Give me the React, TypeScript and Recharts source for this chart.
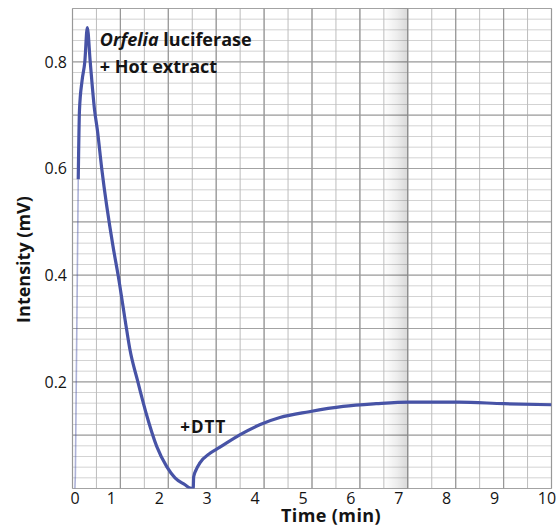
import React from "react";
import {
  LineChart,
  Line,
  XAxis,
  YAxis,
  CartesianGrid,
  ReferenceArea,
  ReferenceDot,
} from "recharts";

// Fast initial rise of the recorder pen (faint on the paper)
const riseTime = [0.05, 0.06, 0.12];
const riseIntensity = [0, 0.025, 0.58];

// Main luminescence trace: flash, decay, then recovery after DTT addition
const traceTime = [
  0.12, 0.146, 0.2, 0.257, 0.309, 0.37, 0.46, 0.518, 0.61, 0.846, 0.956, 1.13,
  1.2, 1.353, 1.534, 1.758, 1.967, 2.14, 2.35, 2.45, 2.52, 2.53, 2.58, 2.66,
  2.87, 3.07, 3.5, 3.92, 4.33, 4.94, 5.65, 6.34, 7.03, 8.07, 9.01, 10,
];
const traceIntensity = [
  0.58, 0.71, 0.765, 0.8, 0.864, 0.8, 0.71, 0.673, 0.6, 0.454, 0.398, 0.298,
  0.26, 0.204, 0.142, 0.079, 0.041, 0.02, 0.007, 0.001, 0.0, 0.022, 0.035,
  0.048, 0.066, 0.077, 0.101, 0.12, 0.133, 0.144, 0.154, 0.159, 0.162, 0.162,
  0.159, 0.157,
];

const xTicks = [0, 1, 2, 3, 4, 5, 6, 7, 8, 9, 10];
const yTicks = [0.2, 0.4, 0.6, 0.8];

const xDomain: [number, number] = [0, 10];
const yDomain: [number, number] = [0, 0.9];

// Chart-paper ruling: fine lines every 0.5 min / 0.02 mV, heavier every 1 min / 0.1 mV
const paperMinorX: number[] = [];
for (let i = 0; i <= 20; i++) paperMinorX.push(i * 0.5);
const paperMajorX: number[] = [];
for (let i = 0; i <= 10; i++) paperMajorX.push(i);
const paperMinorY: number[] = [];
for (let i = 0; i <= 45; i++) paperMinorY.push(Math.round(i * 0.02 * 1000) / 1000);
const paperMajorY: number[] = [];
for (let i = 0; i <= 9; i++) paperMajorY.push(Math.round(i * 0.1 * 1000) / 1000);

const riseData = riseTime.map((t, i) => ({ t, v: riseIntensity[i] }));
const traceData = traceTime.map((t, i) => ({ t, v: traceIntensity[i] }));

const FONT = "'Open Sans', Lato, sans-serif";
const TRACE = "#4753a6";
const INK = "#141414";

// Minute labels were lettered slightly left of their rulings on the printed figure
const timeTick = (props: any) => {
  const { x, y, payload } = props;
  const v = payload.value;
  const nudge = v === 0 ? 2.5 : v === 10 ? -4.5 : -9;
  return (
    <text
      x={x + nudge}
      y={y}
      dy="0.74em"
      textAnchor="middle"
      fontFamily={FONT}
      fontSize={16}
      fill={INK}
    >
      {v}
    </text>
  );
};

const enzymeLabel = (props: any) => {
  const { viewBox } = props;
  const x = viewBox.x;
  const y = viewBox.y;
  return (
    <text x={x} y={y} fontFamily={FONT} fontWeight={700} fontSize={18} fill={INK}>
      <tspan fontStyle="italic">Orfelia</tspan>
      <tspan> luciferase</tspan>
      <tspan x={x} dy={27}>+ Hot extract</tspan>
    </text>
  );
};

const dttLabel = (props: any) => {
  const { viewBox } = props;
  return (
    <text
      x={viewBox.x}
      y={viewBox.y}
      fontFamily={FONT}
      fontWeight={700}
      fontSize={17}
      letterSpacing={1}
      fill={INK}
    >
      +DTT
    </text>
  );
};

const timeTitle = (props: any) => {
  const { viewBox } = props;
  return (
    <text
      x={viewBox.x + viewBox.width / 2 + 19}
      y={viewBox.y + 33}
      textAnchor="middle"
      fontFamily={FONT}
      fontWeight={700}
      fontSize={18}
      letterSpacing={0.4}
      fill={INK}
    >
      Time (min)
    </text>
  );
};

const intensityTitle = (props: any) => {
  const { viewBox } = props;
  const cx = 30;
  const cy = viewBox.y + viewBox.height / 2 + 11;
  return (
    <text
      x={cx}
      y={cy}
      transform={`rotate(-90, ${cx}, ${cy})`}
      textAnchor="middle"
      fontFamily={FONT}
      fontWeight={700}
      fontSize={18}
      fill={INK}
    >
      Intensity (mV)
    </text>
  );
};

export default function App() {
  return (
    <div
      style={{
        position: "absolute",
        left: 0,
        top: 0,
        width: 556,
        height: 527,
        background: "#ffffff",
      }}
    >
      <LineChart
        width={556}
        height={527}
        margin={{ top: 8.5, right: 4.5, left: 0, bottom: 0 }}
      >
        <defs>
          <linearGradient id="paperFold" x1="0" y1="0" x2="1" y2="0">
            <stop offset="0%" stopColor="#000" stopOpacity={0} />
            <stop offset="55%" stopColor="#000" stopOpacity={0.07} />
            <stop offset="100%" stopColor="#000" stopOpacity={0.15} />
          </linearGradient>
        </defs>
        <CartesianGrid
          vertical={false}
          horizontalValues={paperMinorY}
          stroke="#d3d3d3"
          strokeWidth={1}
        />
        <CartesianGrid
          horizontal={false}
          verticalValues={paperMinorX}
          stroke="#bdbdbd"
          strokeWidth={1}
        />
        <CartesianGrid
          vertical={false}
          horizontalValues={paperMajorY}
          stroke="#a3a3a3"
          strokeWidth={1.2}
        />
        <CartesianGrid
          horizontal={false}
          verticalValues={paperMajorX}
          stroke="#989898"
          strokeWidth={1.2}
        />
        <ReferenceArea
          x1={6.5}
          x2={7.0}
          y1={0}
          y2={0.9}
          fill="url(#paperFold)"
          fillOpacity={1}
          stroke="none"
        />
        <XAxis
          type="number"
          dataKey="t"
          domain={xDomain}
          ticks={xTicks}
          allowDataOverflow
          axisLine={false}
          tickLine={false}
          tickSize={0}
          tickMargin={4}
          height={38.5}
          interval={0}
          tick={timeTick}
          label={{ content: timeTitle }}
        />
        <YAxis
          type="number"
          dataKey="v"
          domain={yDomain}
          ticks={yTicks}
          allowDataOverflow
          axisLine={false}
          tickLine={false}
          tickSize={0}
          tickMargin={5.5}
          width={72.5}
          interval={0}
          tick={{ fontFamily: FONT, fontSize: 16, fill: INK }}
          label={{ content: intensityTitle }}
        />
        <Line
          data={riseData}
          dataKey="v"
          type="linear"
          stroke={TRACE}
          strokeOpacity={0.45}
          strokeWidth={1.6}
          dot={false}
          isAnimationActive={false}
        />
        <Line
          data={traceData}
          dataKey="v"
          type="monotone"
          stroke={TRACE}
          strokeWidth={3.2}
          dot={false}
          isAnimationActive={false}
        />
        <ReferenceDot x={0.57} y={0.83} r={0} label={{ content: enzymeLabel }} />
        <ReferenceDot x={2.25} y={0.105} r={0} label={{ content: dttLabel }} />
      </LineChart>
    </div>
  );
}
